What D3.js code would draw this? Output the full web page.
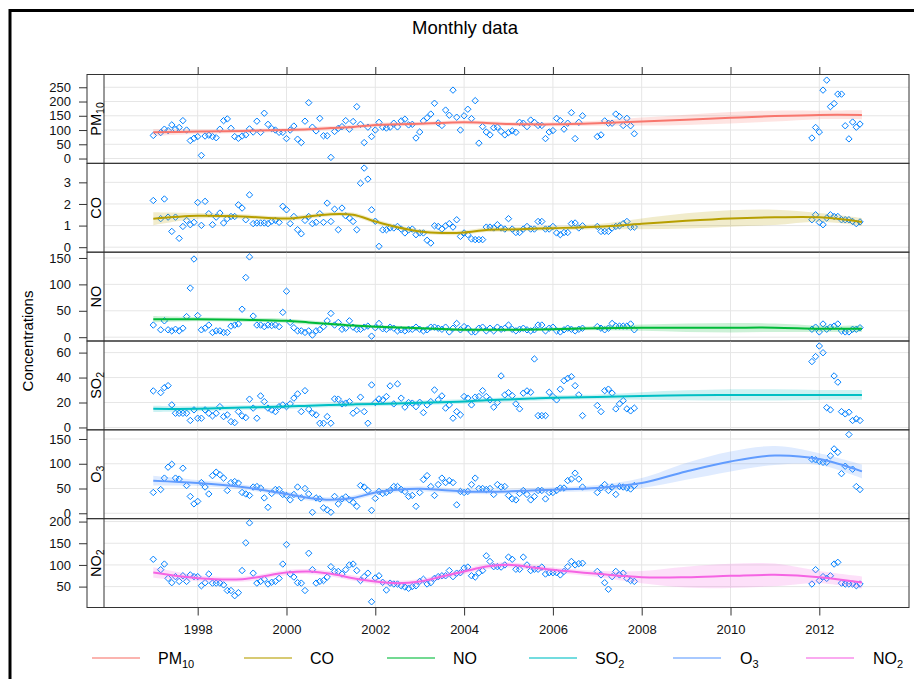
<!DOCTYPE html>
<html><head><meta charset="utf-8">
<script src="https://cdn.jsdelivr.net/npm/d3@7"></script>
<style>
body{margin:0;background:#fff;}
svg{display:block;font-family:"Liberation Sans",Arial,sans-serif;}
</style>
</head><body>
<svg id="c" width="914" height="679"></svg>
<script>
// ---------------- DATA ----------------
const pollutants = ["PM10","CO","NO","SO2","O3","NO2"];
const yearTicks = [1998,2000,2002,2004,2006,2008,2010,2012];
const pm10Ticks = [0,50,100,150,200,250];
const coTicks = [0,1,2,3];
const noTicks = [0,50,100,150];
const so2Ticks = [0,20,40,60];
const o3Ticks = [0,50,100,150];
const no2Ticks = [50,100,150,200];

// monthly means Jan 1997 .. Nov 2007
const pm10Early = [
81,null,91,103,98,118,103,109,133,100,
63,71,77,11,79,82,77,73,103,133,
139,106,77,71,79,83,104,93,131,92,
159,120,105,100,92,92,70,100,114,68,
56,131,196,110,97,141,80,80,4,95,
106,112,133,103,130,182,120,56,110,77,
100,127,110,107,110,124,111,132,138,118,
120,72,93,132,143,156,194,125,116,170,
152,240,145,100,150,173,140,203,54,112,
93,83,108,110,95,83,91,97,92,127,
124,112,135,127,116,116,70,93,98,141,
133,103,124,161,70,127,150,null,null,null,
77,83,132,124,124,156,147,116,141,115,
87];
const coEarly = [
2.16,null,1.32,2.23,1.39,0.73,1.39,0.41,0.96,1.24,
1.04,1.15,2.07,1.01,2.12,1.55,1.04,1.39,1.58,1.12,
1.32,1.42,1.42,1.96,1.81,1.27,2.42,1.09,1.12,1.12,
1.12,1.09,1.2,1.24,1.15,1.89,1.73,1.09,1.42,0.81,
0.62,1.24,1.42,1.09,1.15,1.55,1.15,2.04,1.19,1.76,
0.81,1.81,1.45,1.35,1.19,0.81,2.96,3.66,3.15,1.73,
1.2,0.04,0.8,0.81,0.89,0.89,0.96,0.84,0.66,0.8,
0.84,0.58,0.66,0.66,0.32,0.19,0.99,0.96,0.84,0.99,
1.09,0.93,1.27,0.5,0.66,0.58,0.38,0.35,0.35,0.35,
0.93,0.93,0.89,1.04,0.89,0.84,1.32,0.84,0.68,0.68,
0.84,0.96,0.84,0.84,1.19,1.19,0.84,0.84,0.96,0.66,
0.58,0.68,0.68,1.09,1.12,0.89,0.99,null,null,null,
0.96,0.73,0.73,0.73,0.89,0.96,0.99,1.09,1.19,0.93,
0.93];
const noEarly = [
23,null,14,31,14,12,15,12,17,39,
93,148,41,14,17,23,9,12,12,9,
9,21,23,25,53,113,152,40,23,23,
20,23,22,23,20,47,87,28,18,12,
12,9,12,4,12,14,20,31,45,23,
28,15,17,31,19,15,15,19,21,2,
18,26,16,15,19,17,12,14,12,15,
15,19,15,12,14,19,19,17,15,19,
10,17,26,14,20,17,10,10,17,19,
12,17,12,19,15,17,23,15,12,15,
17,14,12,14,23,23,12,17,19,12,
10,14,17,15,12,15,17,null,null,null,
20,17,14,17,26,21,21,21,21,25,
14];
const so2Early = [
29.3,null,27.9,31.9,33.5,18.1,11.4,11.4,11.4,11.4,
5.6,14.1,7.4,7.4,14.1,11.4,9.3,11.4,16.7,8.7,
10.1,4.7,3.9,12.7,9.3,7.9,22.7,15.5,7.4,25.3,
20.7,15.5,14,12.7,16.7,18.1,16.7,18.9,23.5,26.9,
12.7,29.5,14.7,11.4,10.1,3.4,3.4,8.7,3.4,22.9,
22.7,18.9,19.5,20.7,11.4,13.5,24.3,12.7,3.4,34.1,
20,22.9,22,24.8,33.3,18.9,34.9,23.5,16.3,20,
19.5,16.7,20.2,11.9,18.1,20.7,30.1,22.1,25.3,15.5,
18.1,7.4,12.7,10.1,24.8,23.5,18.1,24.3,24.8,29.5,
24.8,22.1,16.3,20,41.3,26.1,27.9,25.5,18.9,14.9,
27.5,29.3,28.2,54.9,9.5,9.5,9.5,28.2,24.8,22.1,
30.7,37.5,39.4,40.7,33.5,26.1,9.5,null,null,null,
17.6,12.7,29.5,30.7,27.5,14.9,18.9,21.5,14.9,13.3,
15.5];
const o3Early = [
42,null,48,71,93,99,71,69,91,56,
34,19,24,62,53,39,76,83,78,71,
46,62,64,61,42,39,36,53,54,51,
31,12,40,48,48,38,36,27,38,53,
31,50,39,2,31,29,11,7,2,34,
19,29,33,27,22,14,56,53,46,6,
30,44,40,42,46,54,54,48,44,34,
36,14,42,68,76,54,36,58,71,62,
66,62,17,44,42,44,58,71,50,50,
48,50,38,58,53,54,36,29,27,40,
46,38,27,34,46,46,29,42,42,46,
51,51,66,69,81,69,53,null,null,null,
42,51,58,46,53,38,54,53,51,49,
56];
const no2Early = [
113,null,89,102,69,59,73,62,75,62,
77,73,73,52,59,79,58,58,58,54,
41,41,29,36,87,151,197,81,58,62,
67,56,60,62,69,102,147,79,72,59,
58,41,127,89,58,62,64,72,96,85,
85,79,89,100,102,87,64,73,81,15,
70,75,60,42,58,56,56,52,49,46,
50,52,62,67,56,59,69,73,75,75,
87,73,81,82,93,95,75,72,82,87,
121,108,96,96,95,100,118,113,90,90,
118,100,87,90,90,95,79,82,82,82,
77,85,96,108,100,103,104,null,null,null,
85,77,59,44,73,85,77,81,69,64,
62];
// monthly means Nov 2011 .. Dec 2012
const pm10Late = [72,109,93,240,275,182,193,226,226,115,69,128,110,121];
const coLate = [1.27,1.50,1.15,1.04,1.35,1.50,1.42,1.42,1.27,1.27,1.27,1.19,1.09,1.17];
const noLate = [15,19,10,25,15,19,21,25,12,10,10,15,15,18];
const so2Late = [52.8,56.8,65.3,59.9,15.9,14.1,41.3,36.3,12.7,10.9,12.2,5.6,6.9,5.6];
const o3Late = [109,108,105,103,103,116,130,123,80,95,159,89,54,48];
const no2Late = [56,89,64,73,69,75,102,106,58,56,56,56,52,56];

// smooth trend (fitted value and half-width of interval) at these times
const trendYears = [1997,1998,1999,2000,2000.5,2001,2001.5,2002,2002.5,2003,2003.5,2004,2004.5,2005,2005.5,2006,2007,2008,2009,2010,2011,2012,2012.96];
const pm10Trend = [92,94.5,97,100.5,103,107,111,118,120,122,125,127,125,121.5,120,120,124,129.6,136,143,149,153,153];
const pm10Band = [12,8,7,7,7,7,7,7,7,7,7,7,7,7,7,7,9,14,18,20,19,15,16];
const coTrend = [1.32,1.45,1.42,1.33,1.42,1.53,1.5,1.19,0.92,0.73,0.66,0.68,0.8,0.82,0.85,0.88,0.95,1.08,1.22,1.33,1.38,1.38,1.17];
const coBand = [0.3,0.13,0.1,0.1,0.1,0.1,0.1,0.1,0.1,0.1,0.1,0.1,0.1,0.1,0.1,0.1,0.12,0.25,0.35,0.38,0.35,0.2,0.18];
const noTrend = [34,34,33,31,28,25,22,20,18.5,17,15.5,14,14,14,14.5,15,17,18,18,18,18,16,16];
const noBand = [6,4,4,4,4,3.5,3,3,3,3,3,3,3,3,3,3,4,6,8,9,8,6,6];
const so2Trend = [14.9,15,16,16.8,17.5,18,18.5,18.8,19.2,19.8,20.3,20.8,21.8,22.5,23.2,23.9,24.5,25.3,25.8,26.1,26.1,26.1,26.1];
const so2Band = [2.5,2,1.8,1.8,1.8,1.8,1.8,1.8,1.8,1.8,1.8,1.8,1.8,1.8,1.8,1.8,2,3,4,4.5,4.5,4,4];
const o3Trend = [65.7,61,53,39,31,27.4,31,42,47.6,49.6,47,44.2,43.5,44.2,46,47.6,51,61,84.5,104.6,116.7,109.4,84.5];
const o3Band = [10,6,5,5,5,5,5,5,5,5,5,5,5,5,5,5,6,10,17,20,19,12,14];
const no2Trend = [82.4,69.4,67,82.4,84.7,79.4,69.4,61.6,57.9,61.6,73.2,84.7,96.3,100.2,94.9,88.7,79.4,71.8,71.8,74.8,77.1,71.8,59.3];
const no2Band = [12,7,6,6,6,6,6,6,6,6,6,6,6,6,6,6,7,14,24,28,26,14,14];

// ---------------- BUILD ----------------
const earlyStart = 1997, lateStart = 2011 + 10/12;
const colours = ["#F8766D","#B79F00","#00BA38","#00BFC4","#619CFF","#F564E3"];
const labels = [["PM","10"],["CO",""],["NO",""],["SO","2"],["O","3"],["NO","2"]];
const yLimits = [[-16.8,294.8],[-0.23,3.88],[-7.2,161],[-1.9,69.3],[-10.9,168.5],[1.8,206.7]];
const ticksList = [pm10Ticks,coTicks,noTicks,so2Ticks,o3Ticks,no2Ticks];
const earlyList = [pm10Early,coEarly,noEarly,so2Early,o3Early,no2Early];
const lateList = [pm10Late,coLate,noLate,so2Late,o3Late,no2Late];
const trendList = [pm10Trend,coTrend,noTrend,so2Trend,o3Trend,no2Trend];
const bandList = [pm10Band,coBand,noBand,so2Band,o3Band,no2Band];

const panels = pollutants.map((p,k)=>{
  const pts = [];
  earlyList[k].forEach((v,i)=>{ if(v!==null) pts.push({t: earlyStart + i/12, v}); });
  lateList[k].forEach((v,i)=>{ if(v!==null) pts.push({t: lateStart + i/12, v}); });
  const trend = trendYears.map((t,i)=>({t, v: trendList[k][i], b: bandList[k][i]}));
  return {name:p, colour:colours[k], label:labels[k], lim:yLimits[k], ticks:ticksList[k], pts, trend};
});

const svg = d3.select("#c");
const L = 104, R = 909, stripL = 87, top0 = 74.5, bottom0 = 607.5;
const ph = (bottom0 - top0) / panels.length;
const x = d3.scaleLinear().domain([1995.89, 2014.02]).range([L, R]);

// outer frame
svg.append("path").attr("d","M10,679 L10,10.5 L914,10.5").attr("fill","none").attr("stroke","#000").attr("stroke-width",3);

// title
svg.append("text").attr("x",465).attr("y",34).attr("text-anchor","middle")
  .attr("font-size",18.5).attr("fill","#000").text("Monthly data");

// y label
svg.append("text").attr("transform","translate(33,341) rotate(-90)").attr("text-anchor","middle")
  .attr("font-size",15).attr("fill","#000").text("Concentrations");

const diamond = "M0,-3.2L3.2,0L0,3.2L-3.2,0Z";

panels.forEach((P,k)=>{
  const t = top0 + k*ph, b = t + ph;
  const y = d3.scaleLinear().domain(P.lim).range([b, t]);
  const g = svg.append("g");
  // grid
  g.selectAll(".hg").data(P.ticks).join("line")
    .attr("x1",L).attr("x2",R).attr("y1",d=>y(d)).attr("y2",d=>y(d))
    .attr("stroke","#e6e6e6").attr("stroke-width",1);
  g.selectAll(".vg").data(yearTicks).join("line")
    .attr("x1",d=>x(d)).attr("x2",d=>x(d)).attr("y1",t).attr("y2",b)
    .attr("stroke","#e6e6e6").attr("stroke-width",1);
  // points
  g.selectAll(".pt").data(P.pts).join("path")
    .attr("d",diamond).attr("transform",d=>`translate(${x(d.t)},${y(d.v)})`)
    .attr("fill","none").attr("stroke","#0080ff").attr("stroke-width",1);
  // band + trend
  const area = d3.area().x(d=>x(d.t)).y0(d=>y(d.v-d.b)).y1(d=>y(d.v+d.b)).curve(d3.curveCatmullRom);
  g.append("path").datum(P.trend).attr("d",area).attr("fill",P.colour).attr("opacity",0.2);
  const line = d3.line().x(d=>x(d.t)).y(d=>y(d.v)).curve(d3.curveCatmullRom);
  g.append("path").datum(P.trend).attr("d",line).attr("fill","none").attr("stroke",P.colour).attr("stroke-width",2);
  // y axis
  const ax = svg.append("g").attr("transform",`translate(${stripL},0)`)
    .call(d3.axisLeft(y).tickValues(P.ticks).tickSize(8).tickPadding(8).tickFormat(d3.format("d")));
  ax.select(".domain").remove();
  ax.selectAll("line").attr("stroke","#333");
  ax.selectAll("text").attr("font-size",13).attr("fill","#111").attr("font-family","Liberation Sans, Arial, sans-serif");
  // strip label
  const st = svg.append("text").attr("transform",`translate(100.5,${(t+b)/2}) rotate(-90)`)
    .attr("text-anchor","middle").attr("font-size",14.5).attr("fill","#000");
  st.append("tspan").text(P.label[0]);
  if(P.label[1]) st.append("tspan").attr("font-size",10.5).attr("dy",3.5).text(P.label[1]);
  // borders
  svg.append("rect").attr("x",stripL).attr("y",t).attr("width",R-stripL).attr("height",ph)
    .attr("fill","none").attr("stroke","#333").attr("stroke-width",1);
  svg.append("line").attr("x1",L).attr("x2",L).attr("y1",t).attr("y2",b).attr("stroke","#333");
});

// x axes
const xb = svg.append("g").attr("transform",`translate(0,${bottom0})`)
  .call(d3.axisBottom(x).tickValues(yearTicks).tickFormat(d3.format("d")).tickSize(8).tickPadding(9));
xb.select(".domain").remove();
xb.selectAll("line").attr("stroke","#333");
xb.selectAll("text").attr("font-size",13).attr("fill","#111").attr("font-family","Liberation Sans, Arial, sans-serif");
const xt = svg.append("g").attr("transform",`translate(0,${top0})`)
  .call(d3.axisTop(x).tickValues(yearTicks).tickFormat("").tickSize(7.5));
xt.select(".domain").remove();
xt.selectAll("line").attr("stroke","#333");

// legend
const legLineX = [92,244,387,529,673,806];
const legTextX = [158,310,453,595,740,873];
panels.forEach((P,k)=>{
  svg.append("line").attr("x1",legLineX[k]).attr("x2",legLineX[k]+48).attr("y1",658).attr("y2",658)
    .attr("stroke",P.colour).attr("stroke-opacity",0.55).attr("stroke-width",2);
  const tx = svg.append("text").attr("x",legTextX[k]).attr("y",664).attr("font-size",16).attr("fill","#000");
  tx.append("tspan").text(P.label[0]);
  if(P.label[1]) tx.append("tspan").attr("font-size",11).attr("dy",4).text(P.label[1]);
});
</script>
</body></html>
